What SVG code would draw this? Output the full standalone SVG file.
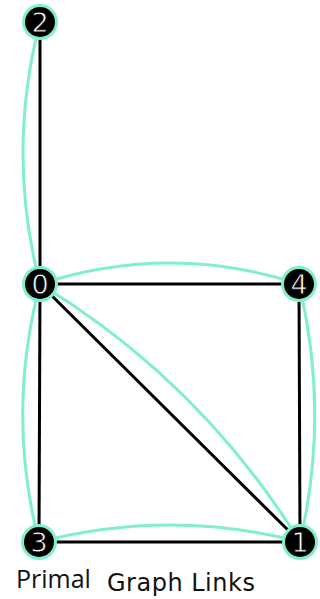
<svg xmlns="http://www.w3.org/2000/svg" width="320" height="599" viewBox="0 0 320 599">
<style>
.e{stroke:#000;stroke-width:3;fill:none}
.c{stroke:#7fefcf;stroke-width:3;fill:none}
.ring{fill:#7fefcf}
.n{fill:#000}
.l{font-family:"DejaVu Sans",sans-serif;font-size:27px;fill:#fff;stroke:#000;stroke-width:0.8;text-anchor:middle;dominant-baseline:central}
.t{fill:#111}
</style>
<rect width="320" height="599" fill="#fff"/>
<g id="connectors">
<path class="c" d="M40,22 Q6,153 40,284"/>
<path class="c" d="M40,284 Q6,413 39,542"/>
<path class="c" d="M40,284 Q170,242 299,284"/>
<path class="c" d="M39,542 Q170,508 300,542"/>
<path class="c" d="M299,284 Q330,413 300,542"/>
<path class="c" d="M40,284 Q201,382 300,542"/>
<line class="e" x1="40" y1="22" x2="40" y2="284"/>
<line class="e" x1="40" y1="284" x2="299" y2="284"/>
<line class="e" x1="40" y1="284" x2="39" y2="542"/>
<line class="e" x1="40" y1="284" x2="300" y2="542"/>
<line class="e" x1="299" y1="284" x2="300" y2="542"/>
<line class="e" x1="39" y1="542" x2="300" y2="542"/>
</g>
<g id="node2"><circle class="ring" cx="40" cy="22" r="18"/><circle class="n" cx="40" cy="22" r="15"/><text class="l" x="40" y="22">2</text></g>
<g id="node0"><circle class="ring" cx="40" cy="284" r="18"/><circle class="n" cx="40" cy="284" r="15"/><text class="l" x="40" y="284">0</text></g>
<g id="node4"><circle class="ring" cx="299" cy="284" r="18"/><circle class="n" cx="299" cy="284" r="15"/><text class="l" x="299" y="284">4</text></g>
<g id="node3"><circle class="ring" cx="39" cy="542" r="18"/><circle class="n" cx="39" cy="542" r="15"/><text class="l" x="39" y="542">3</text></g>
<g id="node1"><circle class="ring" cx="300" cy="542" r="18"/><circle class="n" cx="300" cy="542" r="15"/><text class="l" x="300" y="542">1</text></g>
<g id="caption"><text class="t" x="16" y="588" font-family="Open Sans, Noto Sans, sans-serif" font-size="25">Primal</text><text class="t" x="107" y="591" font-family="DejaVu Sans, sans-serif" font-size="24" letter-spacing="0.5">Graph Links</text></g>
</svg>
